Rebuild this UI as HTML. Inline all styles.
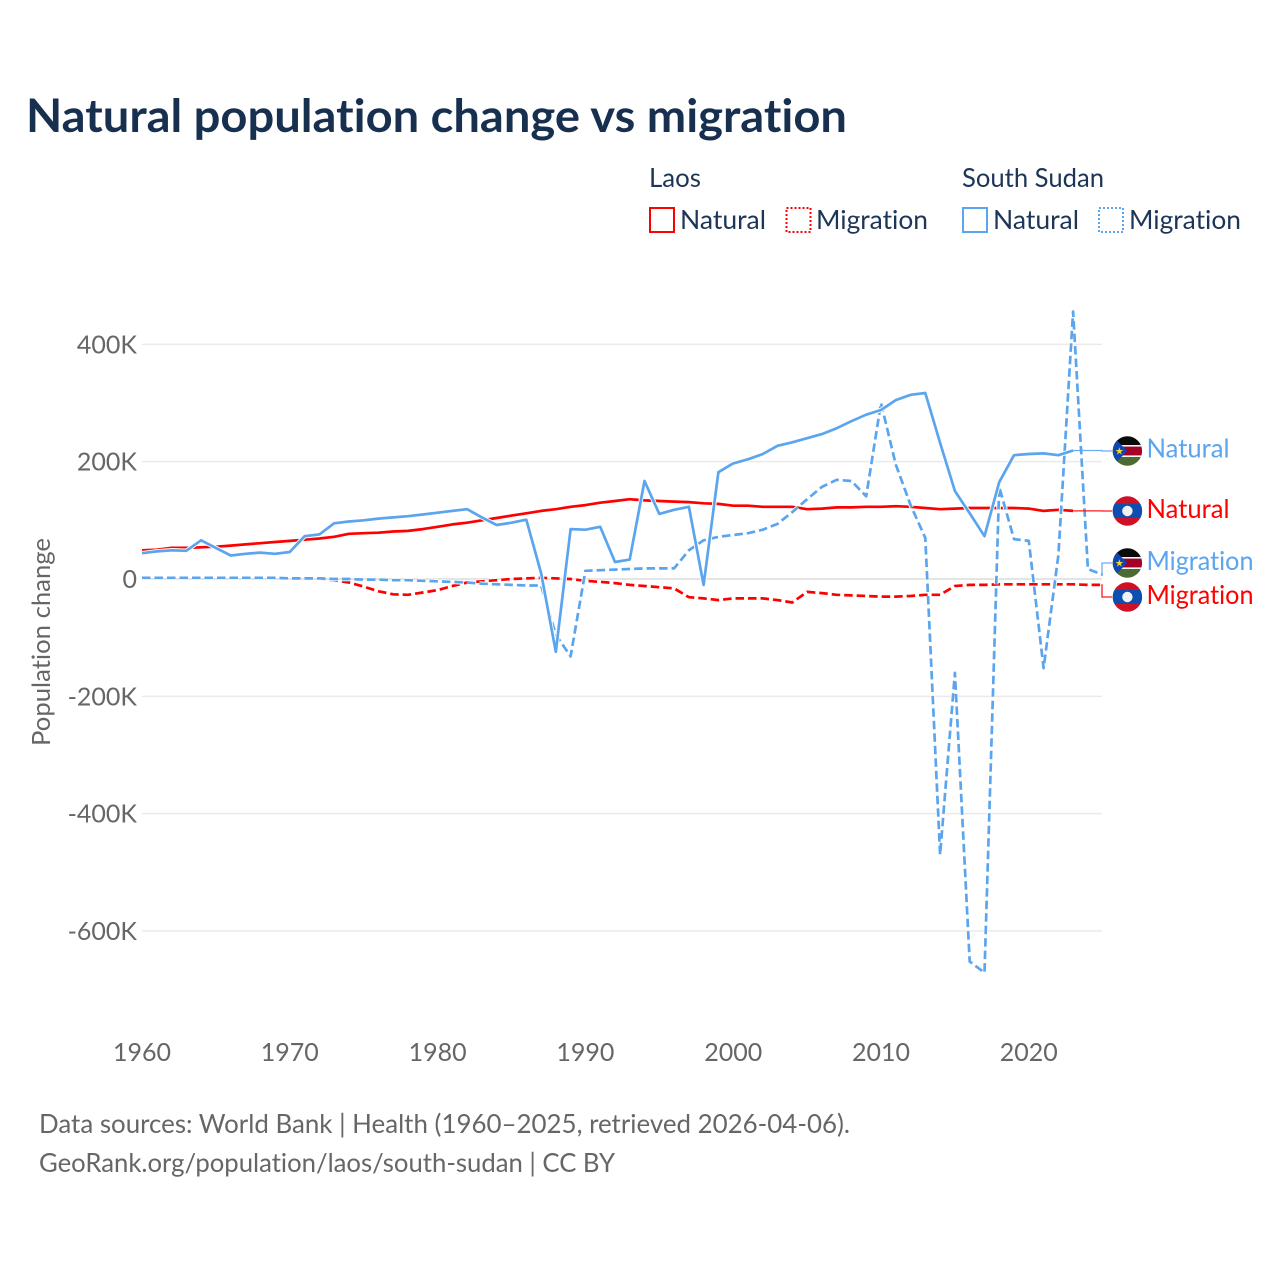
<!DOCTYPE html>
<html lang="en">
<head>
<meta charset="utf-8">
<title>Natural population change vs migration</title>
<style>
html,body{margin:0;padding:0;background:#fff;}
svg{display:block;}
text{font-family:"Lato","Carlito","Liberation Sans",sans-serif;font-variant-ligatures:none;font-feature-settings:"liga" 0,"clig" 0;}
.tick{font-size:25px;fill:#666;}
.legend{font-size:26px;fill:#1d3557;}
.foot{font-size:26px;fill:#666;}
.lab{font-size:26px;}
</style>
</head>
<body>
<svg id="chart" xmlns="http://www.w3.org/2000/svg" width="1280" height="1280" viewBox="0 0 1280 1280">
  <rect width="1280" height="1280" fill="#fff"/>
  <defs>
    <clipPath id="flag-clip"><circle cx="0" cy="0" r="14.7"/></clipPath>
  </defs>
  <text x="26" y="132" font-size="46" font-weight="700" fill="#18304f" textLength="821" lengthAdjust="spacingAndGlyphs">Natural population change vs migration</text>

  <g>
    <text class="legend" x="649" y="187" textLength="52" lengthAdjust="spacingAndGlyphs">Laos</text>
    <text class="legend" x="962" y="187" textLength="142" lengthAdjust="spacingAndGlyphs">South Sudan</text>
    <rect x="650" y="208" width="24" height="24" fill="#fff" stroke="#ff0000" stroke-width="2"/>
    <text class="legend" x="680" y="229" textLength="86" lengthAdjust="spacingAndGlyphs">Natural</text>
    <rect x="786.5" y="208" width="24" height="24" fill="#fff" stroke="#ff0000" stroke-width="2" stroke-dasharray="2 2"/>
    <text class="legend" x="816" y="229" textLength="112" lengthAdjust="spacingAndGlyphs">Migration</text>
    <rect x="963" y="208" width="24" height="24" fill="#fff" stroke="#5ba4ee" stroke-width="2"/>
    <text class="legend" x="993" y="229" textLength="86" lengthAdjust="spacingAndGlyphs">Natural</text>
    <rect x="1099" y="208" width="24" height="24" fill="#fff" stroke="#5ba4ee" stroke-width="2" stroke-dasharray="2 2"/>
    <text class="legend" x="1129" y="229" textLength="112" lengthAdjust="spacingAndGlyphs">Migration</text>
  </g>

  <g id="grid"></g>
  <g id="y-ticks"></g>
  <g id="x-ticks"></g>
  <text class="tick" transform="translate(50,642) rotate(-90)" text-anchor="middle" textLength="208" lengthAdjust="spacingAndGlyphs">Population change</text>
  <g id="series"></g>
  <g id="labels"></g>

  <text class="foot" x="39" y="1133" textLength="811" lengthAdjust="spacingAndGlyphs">Data sources: World Bank | Health (1960–2025, retrieved 2026-04-06).</text>
  <text class="foot" x="39" y="1172" textLength="576" lengthAdjust="spacingAndGlyphs">GeoRank.org/population/laos/south-sudan | CC BY</text>
</svg>
<script>
var years = [1960,1961,1962,1963,1964,1965,1966,1967,1968,1969,1970,1971,1972,1973,1974,1975,1976,1977,1978,1979,1980,1981,1982,1983,1984,1985,1986,1987,1988,1989,1990,1991,1992,1993,1994,1995,1996,1997,1998,1999,2000,2001,2002,2003,2004,2005,2006,2007,2008,2009,2010,2011,2012,2013,2014,2015,2016,2017,2018,2019,2020,2021,2022,2023,2024,2025];
var laosNatural = [49,50,53,53,54,55,57,59,61,63,65,67,69,72,77,78,79,81,82,85,89,93,96,100,104,108,112,116,119,123,126,130,133,136,134,133,132,131,129,128,125,125,123,123,123,119,120,122,122,123,123,124,123,121,119,120,121,121,121,121,120,116,118,116];
var laosMigration = [1,1,1,1,1,1,1,1,1,1,1,1,0,-2,-6,-13,-21,-26,-27,-23,-19,-12,-6,-4,-2,0,1,2,1,0,-3,-5,-7,-10,-12,-14,-16,-31,-33,-36,-33,-33,-33,-36,-40,-22,-24,-27,-28,-29,-30,-30,-29,-27,-27,-12,-10,-10,-9,-9,-9,-9,-9,-9,-10,-10];
var sudanNatural = [44,47,49,48,66,53,40,43,45,43,46,73,76,95,98,100,103,105,107,110,113,116,119,105,92,96,101,10,-124,85,84,89,29,33,167,111,118,123,-10,182,197,204,213,227,233,240,247,257,269,280,288,305,314,317,232,150,112,73,165,211,213,214,211,219];
var sudanMigration = [2,2,2,2,2,2,2,2,2,2,1,1,1,0,0,-1,-1,-2,-2,-3,-4,-5,-6,-8,-9,-10,-11,-11,-95,-132,14,15,16,17,18,18,18,49,66,72,75,78,84,94,114,136,157,169,167,141,300,195,126,70,-470,-160,-652,-671,157,68,65,-152,41,456,17,7];
var xTickValues = [1960,1970,1980,1990,2000,2010,2020];
var yTickValues = [400000,200000,0,-200000,-400000,-600000];
var yTickLabels = ["400K","200K","0","-200K","-400K","-600K"];

var NS = "http://www.w3.org/2000/svg";
function xScale(year){ return 142 + (year - 1960) * 14.78; }
function yScale(valueK){ return 579 - valueK * 0.5867; }
function make(tag, parent){
  var el = document.createElementNS(NS, tag);
  parent.appendChild(el);
  return el;
}
function linePath(values){
  var d = "";
  for (var i = 0; i < values.length; i++){
    d += (i ? "L" : "M") + xScale(years[i]).toFixed(1) + "," + yScale(values[i]).toFixed(1);
  }
  return d;
}

var gridG = document.getElementById("grid");
var yG = document.getElementById("y-ticks");
yTickValues.forEach(function(v, i){
  var y = yScale(v / 1000);
  var ln = make("line", gridG);
  
  
  ln.setAttribute("x1", 142); ln.setAttribute("x2", 1102);
  ln.setAttribute("y1", y); ln.setAttribute("y2", y);
  ln.setAttribute("stroke", v === 0 ? "#dcdcdc" : "#eaeaea");
  ln.setAttribute("stroke-width", 1.5);
  var t = make("text", yG);
  
  
  t.setAttribute("class", "tick");
  t.setAttribute("x", 137);
  t.setAttribute("y", y + 9);
  t.setAttribute("text-anchor", "end");
  t.textContent = yTickLabels[i];
});

var xG = document.getElementById("x-ticks");
xTickValues.forEach(function(v){
  var t = make("text", xG);
  
  
  t.setAttribute("class", "tick");
  t.setAttribute("x", xScale(v));
  t.setAttribute("y", 1061);
  t.setAttribute("text-anchor", "middle");
  t.textContent = v;
});

var seriesG = document.getElementById("series");
function drawSeries(name, values, color, dashed){
  var halo = make("path", seriesG);
  
  
  halo.setAttribute("d", linePath(values));
  halo.setAttribute("fill", "none");
  halo.setAttribute("stroke", "#fff");
  halo.setAttribute("stroke-width", 4.5);
  halo.setAttribute("stroke-linejoin", "round");
  if (dashed) halo.setAttribute("stroke-dasharray", "8.5 4");
  var p = make("path", seriesG);
  
  
  p.setAttribute("d", linePath(values));
  p.setAttribute("fill", "none");
  p.setAttribute("stroke", color);
  p.setAttribute("stroke-width", 2.7);
  p.setAttribute("stroke-linejoin", "round");
  if (dashed) p.setAttribute("stroke-dasharray", "8.5 4");
}
var RED = "#ff0000", BLUE = "#5ba4ee";
drawSeries("laos-migration", laosMigration, RED, true);
drawSeries("laos-natural", laosNatural, RED, false);
drawSeries("south-sudan-migration", sudanMigration, BLUE, true);
drawSeries("south-sudan-natural", sudanNatural, BLUE, false);

var labelsG = document.getElementById("labels");
function rectIn(g, x, y, w, h, fill){
  var r = make("rect", g);
  r.setAttribute("x", x); r.setAttribute("y", y);
  r.setAttribute("width", w); r.setAttribute("height", h);
  r.setAttribute("fill", fill);
  return r;
}
function drawFlag(name, cy, isLaos){
  var g = make("g", labelsG);
  
  
  g.setAttribute("transform", "translate(1127.4," + cy + ")");
  g.setAttribute("clip-path", "url(#flag-clip)");
  if (isLaos){
    rectIn(g, -15, -15, 30, 30, "#ce1126");
    rectIn(g, -15, -7, 30, 14, "#0c4fb0");
    var c = make("circle", g);
    c.setAttribute("r", 5.2);
    c.setAttribute("fill", "#f2f2f2");
  } else {
    rectIn(g, -15, -15, 30, 10, "#0a0a0a");
    rectIn(g, -15, -5, 30, 10, "#a50026");
    rectIn(g, -15, 5, 30, 10, "#4b6b33");
    rectIn(g, -15, -6, 30, 1.6, "#f4f4f4");
    rectIn(g, -15, 4.4, 30, 1.6, "#f4f4f4");
    var tri = make("polygon", g);
    tri.setAttribute("points", "-15,-15 0,0 -15,15");
    tri.setAttribute("fill", "#0f47af");
    var star = make("text", g);
    star.setAttribute("x", -8);
    star.setAttribute("y", 3.5);
    star.setAttribute("font-size", 10);
    star.setAttribute("text-anchor", "middle");
    star.setAttribute("fill", "#f6d32d");
    star.textContent = "★";
  }
}
function connector(name, values, labelY, color, elbowX){
  var last = values.length - 1;
  var x0 = xScale(years[last]);
  var y0 = yScale(values[last]);
  var p = make("path", labelsG);
  
  
  p.setAttribute("d", "M" + x0.toFixed(1) + "," + y0.toFixed(1) + "H" + elbowX + "V" + labelY + "H1112");
  p.setAttribute("fill", "none");
  p.setAttribute("stroke", color);
  p.setAttribute("stroke-width", 1.3);
  p.setAttribute("opacity", 0.9);
}
function label(name, text, y, color, width){
  var t = make("text", labelsG);
  
  
  t.setAttribute("class", "lab");
  t.setAttribute("x", 1146.5);
  t.setAttribute("y", y + 9);
  t.setAttribute("fill", color);
  t.setAttribute("textLength", width);
  t.setAttribute("lengthAdjust", "spacingAndGlyphs");
  t.textContent = text;
}
connector("connector-south-sudan-natural", sudanNatural, 451, BLUE, 1102);
connector("connector-laos-natural", laosNatural, 511, RED, 1102);
connector("connector-south-sudan-migration", sudanMigration, 563, BLUE, 1102);
connector("connector-laos-migration", laosMigration, 597, RED, 1102);
drawFlag("flag-south-sudan-natural", 451, false);
drawFlag("flag-laos-natural", 511, true);
drawFlag("flag-south-sudan-migration", 563, false);
drawFlag("flag-laos-migration", 597, true);
label("label-south-sudan-natural", "Natural", 448.5, BLUE, 83);
label("label-laos-natural", "Natural", 509, RED, 83);
label("label-south-sudan-migration", "Migration", 561, BLUE, 107);
label("label-laos-migration", "Migration", 595, RED, 107);
</script>
</body>
</html>
